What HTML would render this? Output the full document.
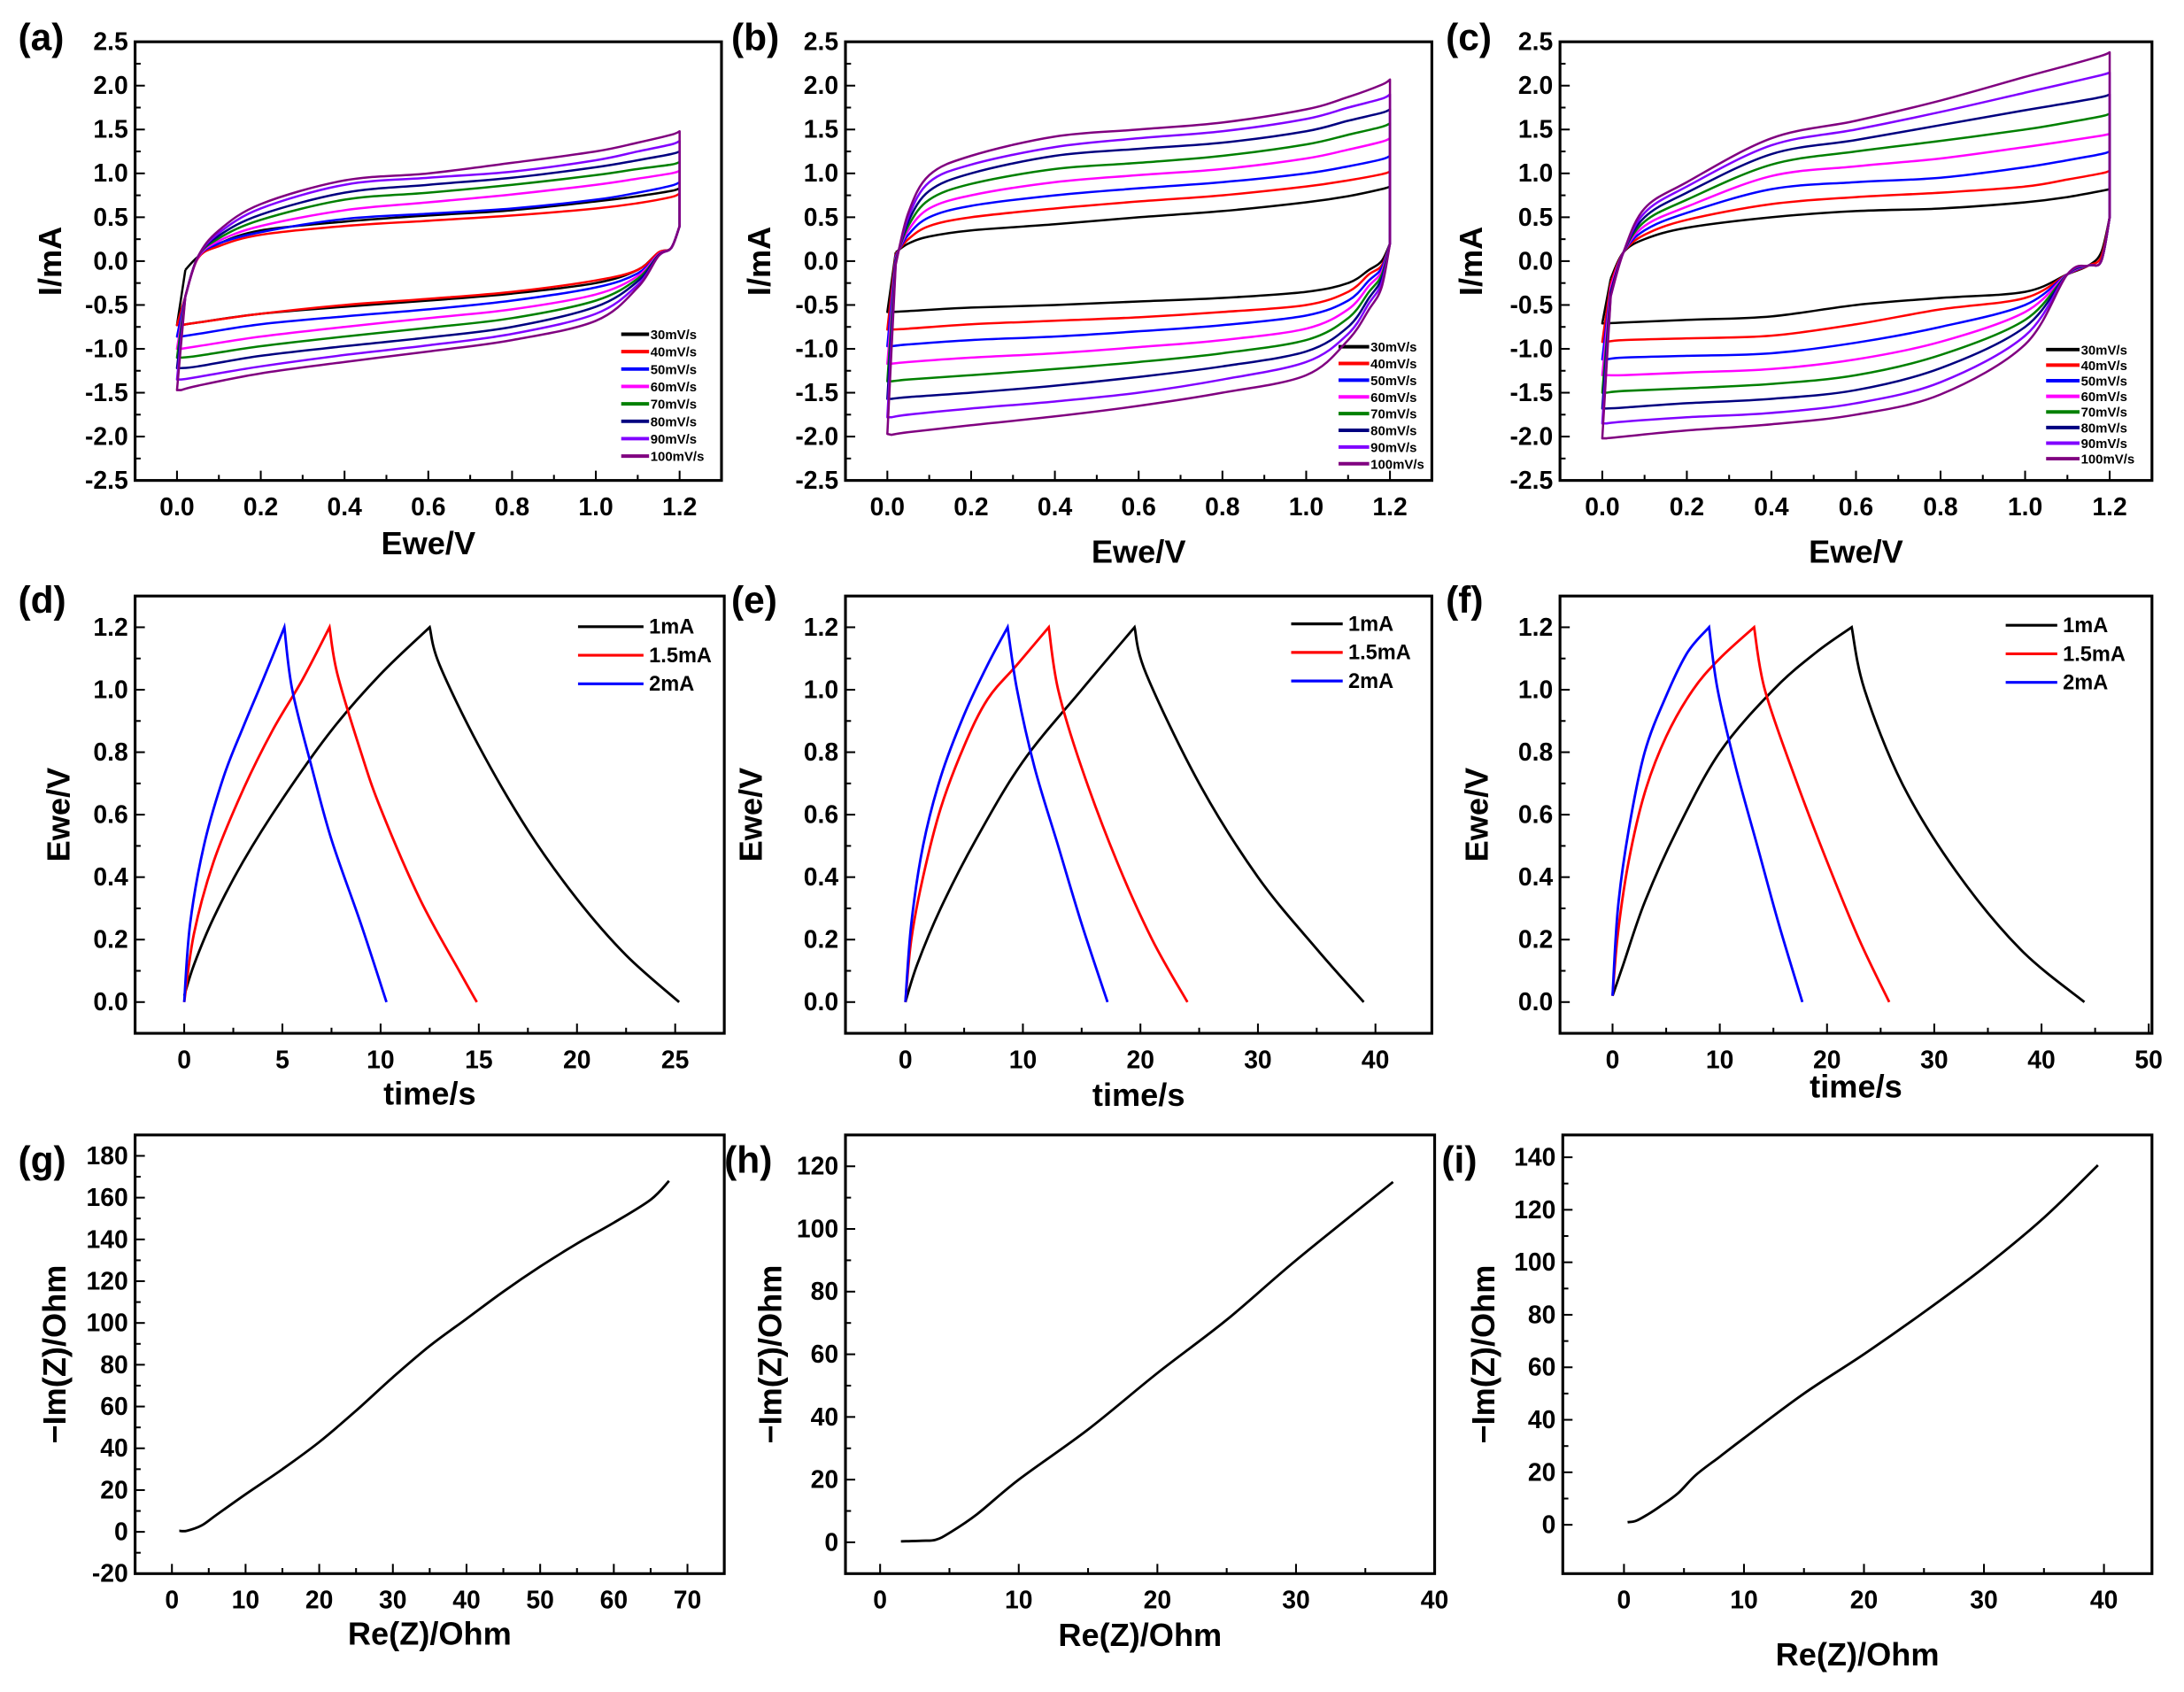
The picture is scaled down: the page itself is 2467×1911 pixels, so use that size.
<!DOCTYPE html>
<html><head><meta charset="utf-8"><style>
html,body{margin:0;padding:0;background:#fff;}
svg{display:block;font-family:"Liberation Sans",Arial,sans-serif;font-weight:bold;}
</style></head><body>
<svg id="fig" width="2467" height="1911" viewBox="0 0 1568 1215" preserveAspectRatio="none" xmlns="http://www.w3.org/2000/svg"></svg>
<script>
// ---------- CV data ----------
const cvRates = ["30mV/s","40mV/s","50mV/s","60mV/s","70mV/s","80mV/s","90mV/s","100mV/s"];
const cvColors = ["#000000","#ff0000","#0000ff","#ff00ff","#008000","#000080","#8000ff","#800080"];
const cvEu = [0,0.02,0.05,0.1,0.2,0.4,0.6,0.8,1.0,1.1,1.18,1.2];
const cvEl = [1.2,1.18,1.15,1.1,1.0,0.8,0.6,0.4,0.2,0.05,0.01,0];
// panel a
const aUp = [
[-0.73,-0.1,0.05,0.2,0.35,0.45,0.52,0.58,0.68,0.74,0.8,0.83],
[-0.73,-0.4,0.03,0.17,0.3,0.4,0.46,0.52,0.6,0.66,0.73,0.77],
[-0.86,-0.4,0.04,0.2,0.33,0.48,0.54,0.6,0.7,0.78,0.86,0.9],
[-1.0,-0.4,0.04,0.23,0.4,0.58,0.67,0.76,0.87,0.94,1.0,1.03],
[-1.1,-0.4,0.05,0.26,0.47,0.7,0.78,0.87,0.98,1.05,1.1,1.13],
[-1.22,-0.4,0.05,0.29,0.53,0.78,0.87,0.95,1.07,1.15,1.22,1.25],
[-1.35,-0.4,0.05,0.32,0.6,0.87,0.95,1.02,1.15,1.25,1.33,1.37],
[-1.47,-0.4,0.05,0.35,0.65,0.92,1.0,1.12,1.25,1.35,1.44,1.48]];
const aLo = [
[0.4,0.15,0.1,-0.1,-0.25,-0.37,-0.45,-0.52,-0.6,-0.7,-0.73,-0.73],
[0.4,0.15,0.1,-0.1,-0.22,-0.35,-0.43,-0.5,-0.6,-0.7,-0.73,-0.73],
[0.4,0.15,0.08,-0.14,-0.3,-0.45,-0.55,-0.63,-0.72,-0.83,-0.86,-0.86],
[0.4,0.15,0.08,-0.17,-0.38,-0.55,-0.65,-0.75,-0.86,-0.97,-1.0,-1.0],
[0.4,0.15,0.07,-0.2,-0.45,-0.65,-0.76,-0.86,-0.97,-1.08,-1.1,-1.1],
[0.4,0.15,0.07,-0.23,-0.52,-0.75,-0.87,-0.97,-1.08,-1.2,-1.22,-1.22],
[0.4,0.15,0.06,-0.27,-0.6,-0.83,-0.96,-1.07,-1.2,-1.32,-1.35,-1.35],
[0.4,0.15,0.06,-0.3,-0.68,-0.9,-1.03,-1.15,-1.28,-1.42,-1.47,-1.55]];
// panel b
const bUp = [
[-0.58,0.1,0.2,0.28,0.35,0.42,0.5,0.57,0.67,0.74,0.82,0.85],
[-0.78,0.08,0.25,0.4,0.5,0.6,0.68,0.75,0.85,0.92,0.99,1.02],
[-0.97,0.06,0.3,0.5,0.63,0.75,0.83,0.9,1.0,1.08,1.16,1.2],
[-1.17,0.04,0.35,0.6,0.75,0.9,0.98,1.05,1.17,1.27,1.36,1.4],
[-1.37,0.02,0.4,0.7,0.88,1.05,1.12,1.2,1.33,1.44,1.53,1.57],
[-1.57,0.0,0.45,0.8,1.0,1.2,1.28,1.35,1.48,1.6,1.69,1.73],
[-1.78,-0.02,0.5,0.9,1.1,1.3,1.4,1.48,1.62,1.75,1.85,1.9],
[-1.97,-0.04,0.55,0.98,1.2,1.42,1.5,1.58,1.73,1.87,2.01,2.07]];
const bLo = [
[0.2,0.0,-0.1,-0.25,-0.35,-0.42,-0.46,-0.5,-0.53,-0.57,-0.58,-0.58],
[0.2,-0.05,-0.15,-0.35,-0.5,-0.58,-0.64,-0.68,-0.72,-0.77,-0.78,-0.78],
[0.2,-0.08,-0.22,-0.45,-0.62,-0.73,-0.8,-0.86,-0.9,-0.95,-0.97,-0.97],
[0.2,-0.12,-0.28,-0.55,-0.77,-0.9,-0.98,-1.05,-1.1,-1.15,-1.17,-1.17],
[0.2,-0.16,-0.35,-0.65,-0.9,-1.05,-1.15,-1.23,-1.3,-1.35,-1.37,-1.37],
[0.2,-0.2,-0.42,-0.75,-1.03,-1.2,-1.32,-1.42,-1.5,-1.55,-1.57,-1.57],
[0.2,-0.25,-0.48,-0.83,-1.15,-1.35,-1.5,-1.6,-1.68,-1.75,-1.78,-1.78],
[0.2,-0.3,-0.55,-0.9,-1.3,-1.5,-1.65,-1.77,-1.87,-1.95,-1.98,-2.0]];
// panel c
const cUp = [
[-0.71,-0.2,0.1,0.25,0.38,0.5,0.57,0.6,0.67,0.73,0.8,0.82],
[-0.92,-0.25,0.1,0.3,0.47,0.65,0.73,0.78,0.85,0.93,1.0,1.03],
[-1.12,-0.3,0.1,0.35,0.55,0.82,0.9,0.95,1.07,1.15,1.22,1.25],
[-1.3,-0.3,0.1,0.4,0.62,0.97,1.08,1.17,1.3,1.37,1.43,1.45],
[-1.5,-0.35,0.1,0.45,0.7,1.1,1.25,1.37,1.5,1.58,1.65,1.68],
[-1.68,-0.35,0.1,0.5,0.78,1.22,1.38,1.55,1.72,1.8,1.87,1.9],
[-1.85,-0.4,0.1,0.55,0.85,1.32,1.5,1.7,1.92,2.03,2.12,2.15],
[-2.02,-0.4,0.1,0.6,0.9,1.4,1.6,1.83,2.1,2.23,2.34,2.38]];
const cLo = [
[0.5,0.1,-0.05,-0.15,-0.35,-0.42,-0.5,-0.63,-0.67,-0.7,-0.71,-0.71],
[0.5,0.05,-0.05,-0.15,-0.42,-0.55,-0.72,-0.85,-0.88,-0.9,-0.92,-0.92],
[0.5,0.0,-0.05,-0.15,-0.5,-0.75,-0.93,-1.05,-1.08,-1.1,-1.12,-1.12],
[0.5,0.0,-0.05,-0.15,-0.58,-0.92,-1.12,-1.23,-1.27,-1.3,-1.3,-1.3],
[0.5,0.0,-0.05,-0.15,-0.67,-1.07,-1.3,-1.4,-1.45,-1.48,-1.5,-1.5],
[0.5,0.0,-0.05,-0.15,-0.75,-1.22,-1.47,-1.57,-1.62,-1.67,-1.68,-1.68],
[0.5,0.0,-0.05,-0.15,-0.85,-1.38,-1.62,-1.73,-1.78,-1.83,-1.85,-1.85],
[0.5,0.0,-0.05,-0.15,-0.95,-1.52,-1.75,-1.86,-1.93,-2.0,-2.02,-2.03]];

// ---------- GCD data ----------
const gcdNames = ["1mA","1.5mA","2mA"];
const gcdColors = ["#000000","#ff0000","#0000ff"];
const dT = [[0,0.5,1.5,3,5,7.5,10,12.5,13,15,17.5,20,22.5,25.2],[0,0.5,1.5,3,4.5,6,7.4,7.8,9,10,12,14,14.9],[0,0.3,1,2,3,4,5.1,5.5,6.5,7.5,9,10.3]];
const dV = [[0.02,0.12,0.27,0.45,0.65,0.87,1.05,1.2,1.08,0.82,0.55,0.33,0.15,0.0],[0,0.22,0.45,0.68,0.87,1.03,1.2,1.05,0.8,0.62,0.33,0.1,0],[0,0.25,0.5,0.72,0.88,1.03,1.2,1.0,0.75,0.52,0.25,0]];
const eT = [[0,1,3,6,10,15,19.5,20.5,25,30,35,39],[0,0.5,1.5,3,5,7,9.5,12.2,13,15,18,21,24],[0,0.5,1.5,3,5,7,8.7,9.5,11,13,15,17.2]];
const eV = [[0,0.12,0.3,0.52,0.77,1.0,1.2,1.05,0.7,0.4,0.17,0],[0,0.2,0.4,0.62,0.82,0.97,1.08,1.2,1.0,0.75,0.45,0.2,0],[0,0.25,0.5,0.72,0.92,1.08,1.2,1.0,0.75,0.5,0.25,0]];
const fT = [[0,1,3,6,10,15,19,22.3,23.5,27,32,38,44],[0,0.5,1.5,3,5,7.5,10,13.2,14.2,17,20,23,25.8],[0,0.5,1.5,3,5,7,9,9.8,11.5,13.5,15.5,17.7]];
const fV = [[0.02,0.12,0.32,0.55,0.8,1.0,1.12,1.2,1.0,0.7,0.42,0.17,0],[0.02,0.22,0.45,0.67,0.85,1.0,1.1,1.2,1.0,0.72,0.45,0.2,0],[0.02,0.3,0.55,0.8,0.98,1.12,1.2,1.0,0.75,0.5,0.25,0]];

// ---------- EIS data ----------
const gRe = [1,2,4,6,10,15,20,25,30,35,40,45,50,55,60,65,67.5];
const gIm = [0.5,0.5,3,8,18,30,43,58,74,89,102,115,127,138,148,159,168];
const hRe = [1.5,3,4,5,7,10,15,20,25,30,37];
const hIm = [0.3,0.5,0.8,3,9,20,36,54,71,90,115];
const iRe = [0.3,1,2,3,4.5,6,8,10,15,20,25,30,35,39.5];
const iIm = [1,1.5,4,7,12,19,26,33,50,65,81,98,117,137];

// ---------- drawing ----------
const NS="http://www.w3.org/2000/svg";
const svg=document.getElementById('fig');
function mk(tag,attrs,parent){const e=document.createElementNS(NS,tag);for(const k in attrs)e.setAttribute(k,attrs[k]);(parent||svg).appendChild(e);return e;}
function spline(pts){
  if(pts.length<2)return '';
  let d='M'+pts[0][0].toFixed(2)+','+pts[0][1].toFixed(2);
  for(let i=0;i<pts.length-1;i++){
    const p0=pts[i-1]||pts[i],p1=pts[i],p2=pts[i+1],p3=pts[i+2]||p2;
    const c1=[p1[0]+(p2[0]-p0[0])/6,p1[1]+(p2[1]-p0[1])/6];
    const c2=[p2[0]-(p3[0]-p1[0])/6,p2[1]-(p3[1]-p1[1])/6];
    d+='C'+c1[0].toFixed(2)+','+c1[1].toFixed(2)+' '+c2[0].toFixed(2)+','+c2[1].toFixed(2)+' '+p2[0].toFixed(2)+','+p2[1].toFixed(2);
  }
  return d;
}
function panel(cfg){
  const g=mk('g',{});
  
  
  const {x0,x1,y0,y1,xd,yd}=cfg;
  const sx=v=>x0+(v-xd[0])/(xd[1]-xd[0])*(x1-x0);
  const sy=v=>y1-(v-yd[0])/(yd[1]-yd[0])*(y1-y0);
  cfg.sx=sx;cfg.sy=sy;cfg.g=g;
  const tg=mk('g',{stroke:'#000','stroke-width':1.3},g);
  
  
  for(let v=cfg.xt[0];v<=cfg.xt[1]+1e-9;v+=cfg.xt[2]/2){
    const maj=Math.abs(Math.round(v/cfg.xt[2])*cfg.xt[2]-v)<1e-9;
    const X=sx(v);mk('line',{x1:X,x2:X,y1:y1,y2:y1-(maj?7:4)},tg);
    if(maj){const t=mk('text',{x:X,y:y1+25,'text-anchor':'middle','font-size':18},g);t.textContent=v.toFixed(cfg.xdec);
      }
  }
  for(let v=cfg.yt[0];v<=cfg.yt[1]+1e-9;v+=cfg.yt[2]/2){
    const maj=Math.abs(Math.round(v/cfg.yt[2])*cfg.yt[2]-v)<1e-9;
    const Y=sy(v);mk('line',{x1:x0,x2:x0+(maj?7:4),y1:Y,y2:Y},tg);
    if(maj){const t=mk('text',{x:x0-5,y:Y+6,'text-anchor':'end','font-size':18},g);t.textContent=v.toFixed(cfg.ydec);
      }
  }
  const box=mk('rect',{x:x0,y:y0,width:x1-x0,height:y1-y0,fill:'none',stroke:'#000','stroke-width':2},g);
  
  const xt=mk('text',{x:(x0+x1)/2,y:cfg.xly,'text-anchor':'middle','font-size':23},g);xt.textContent=cfg.xl;
  
  const yt=mk('text',{x:0,y:0,'text-anchor':'middle','font-size':23,transform:`translate(${cfg.ylx},${(y0+y1)/2}) rotate(-90)`},g);yt.textContent=cfg.yl;
  
  const pl=mk('text',{x:cfg.lx,y:cfg.ly,'font-size':27},g);pl.textContent=cfg.label;
  
  return cfg;
}
function cvPanel(cfg,up,lo,leg){
  panel(cfg);
  for(let s=0;s<8;s++){
    const pts=cvEu.map((e,i)=>[cfg.sx(e),cfg.sy(up[s][i])]);
    const pts2=cvEl.map((e,i)=>[cfg.sx(e),cfg.sy(lo[s][i])]);
    let d=spline(pts.slice(1))+' L'+pts2[0][0]+','+pts2[0][1]+' '+spline(pts2.slice(0,-1)).replace('M','L')+' L'+pts[0][0]+','+pts[0][1]+' L'+pts[1][0]+','+pts[1][1];
    const p=mk('path',{d:d,fill:'none',stroke:cvColors[s],'stroke-width':1.6,'stroke-linejoin':'round'},cfg.g);
    
    
    const Y=leg.y+s*leg.dy;
    const ll=mk('line',{x1:leg.x,x2:leg.x+leg.w,y1:Y,y2:Y,stroke:cvColors[s],'stroke-width':2.5},cfg.g);
    
    const lt=mk('text',{x:leg.x+leg.w+1,y:Y+3.5,'font-size':9.5},cfg.g);lt.textContent=cvRates[s];
    
  }
}
function gcdPanel(cfg,T,V,leg){
  panel(cfg);
  for(let s=0;s<3;s++){
    const pk=V[s].indexOf(1.2);
    const pts=T[s].map((t,i)=>[cfg.sx(t),cfg.sy(V[s][i])]);
    const d=spline(pts.slice(0,pk+1))+' '+spline(pts.slice(pk)).replace('M','L');
    const p=mk('path',{d:d,fill:'none',stroke:gcdColors[s],'stroke-width':1.8},cfg.g);
    
    
    const Y=leg.y+s*leg.dy;
    const ll=mk('line',{x1:leg.x,x2:leg.x+leg.w,y1:Y,y2:Y,stroke:gcdColors[s],'stroke-width':2},cfg.g);
    
    const lt=mk('text',{x:leg.x+leg.w+4,y:Y+5,'font-size':15},cfg.g);lt.textContent=gcdNames[s];
    
  }
}
function eisPanel(cfg,R,I){
  panel(cfg);
  const pts=R.map((r,i)=>[cfg.sx(r),cfg.sy(I[i])]);
  const p=mk('path',{d:spline(pts),fill:'none',stroke:'#000','stroke-width':1.8},cfg.g);
  
  
}
const cvCommon={y0:30,y1:345,yd:[-2.5,2.5],xd:[-0.1,1.3],yt:[-2.5,2.5,0.5],xt:[0,1.2,0.2],xdec:1,ydec:1,xl:'Ewe/V',yl:'I/mA',ly:36};
cvPanel(Object.assign({},cvCommon,{name:'panel-a',x0:97,x1:518,xly:398,ylx:44,lx:13,label:'(a)'}),aUp,aLo,{x:446,w:20,y:240,dy:12.5});
cvPanel(Object.assign({},cvCommon,{name:'panel-b',x0:607,x1:1028,xly:404,ylx:553,lx:525,label:'(b)'}),bUp,bLo,{x:961,w:22,y:249,dy:12});
cvPanel(Object.assign({},cvCommon,{name:'panel-c',x0:1120,x1:1545,xly:404,ylx:1064,lx:1038,label:'(c)'}),cUp,cLo,{x:1469,w:24,y:251,dy:11.2});
const gcdCommon={y0:428,y1:742,yd:[-0.1,1.3],yt:[0,1.2,0.2],xdec:0,ydec:1,xl:'time/s',yl:'Ewe/V',ly:440};
gcdPanel(Object.assign({},gcdCommon,{name:'panel-d',x0:97,x1:520,xd:[-2.5,27.5],xt:[0,25,5],xly:793,ylx:50,lx:13,label:'(d)'}),dT,dV,{x:415,w:47,y:450,dy:20.5});
gcdPanel(Object.assign({},gcdCommon,{name:'panel-e',x0:607,x1:1028,xd:[-5.1,44.8],xt:[0,40,10],xly:794,ylx:547,lx:525,label:'(e)'}),eT,eV,{x:927,w:37,y:448,dy:20.5});
gcdPanel(Object.assign({},gcdCommon,{name:'panel-f',x0:1120,x1:1545,xd:[-4.9,50.3],xt:[0,50,10],xly:788,ylx:1068,lx:1038,label:'(f)'}),fT,fV,{x:1440,w:37,y:449,dy:20.5});
const eisCommon={y0:815,y1:1130,xdec:0,ydec:0,xl:'Re(Z)/Ohm',yl:'\u2212Im(Z)/Ohm',ly:842};
eisPanel(Object.assign({},eisCommon,{name:'panel-g',x0:97,x1:520,xd:[-5,75],yd:[-20,190],yt:[-20,180,20],xt:[0,70,10],xly:1181,ylx:47,lx:13,label:'(g)'}),gRe,gIm);
eisPanel(Object.assign({},eisCommon,{name:'panel-h',x0:607,x1:1030,xd:[-2.5,40],yd:[-10,130],yt:[0,120,20],xt:[0,40,10],xly:1182,ylx:561,lx:520,label:'(h)'}),hRe,hIm);
eisPanel(Object.assign({},eisCommon,{name:'panel-i',x0:1122,x1:1545,xd:[-5.1,44],yd:[-18.6,148.5],yt:[0,140,20],xt:[0,40,10],xly:1196,ylx:1073,lx:1035,label:'(i)'}),iRe,iIm);
</script>
</body></html>
